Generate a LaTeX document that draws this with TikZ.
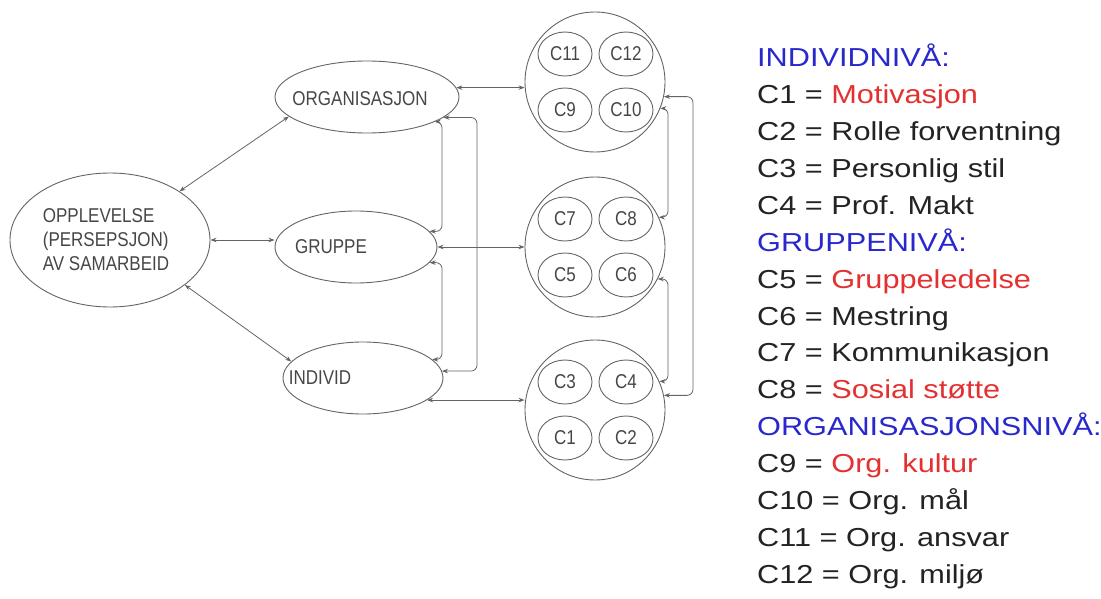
\documentclass[tikz,border=0pt]{standalone}
\usepackage{fontspec}
\usepackage{tikz}
\usetikzlibrary{arrows.meta, shapes.geometric}
\newfontfamily\diafont[FakeStretch=0.85]{Liberation Sans}
\newfontfamily\keyfont[FakeStretch=1.18]{Liberation Sans}
\definecolor{ink}{RGB}{70,70,70}
\definecolor{wire}{RGB}{100,100,100}
\definecolor{lvl}{RGB}{40,40,205}
\definecolor{hot}{RGB}{228,48,48}
\definecolor{key}{RGB}{35,35,35}

\begin{document}
\begin{tikzpicture}[x=1pt, y=-1pt, >={Stealth[length=6pt,width=4.5pt]}]
\tikzstyle{every node}+=[inner sep=0pt]
\tikzstyle{tag}=[text=ink, font=\diafont\fontsize{20}{24}\selectfont]
\tikzstyle{oval}=[draw=wire, line width=0.9pt, ellipse]
\tikzstyle{ring}=[draw=wire, line width=0.9pt, circle, minimum size=140pt]
\tikzstyle{cell}=[oval, tag, minimum width=54pt, minimum height=44pt]
\tikzstyle{link}=[<->, draw=wire, line width=0.8pt]
\tikzstyle{hook}=[link, rounded corners=6pt]
\tikzstyle{keyline}=[anchor=base west, text=key, font=\keyfont\fontsize{26}{30}\selectfont]
\useasboundingbox (0,0) rectangle (1101,599);

\node[oval, minimum width=200pt, minimum height=134pt, label={[tag, align=left, xshift=-4pt]center:OPPLEVELSE\\(PERSEPSJON)\\AV SAMARBEID}] (opp) at (110,240) {};
\node[oval, minimum width=184pt, minimum height=72pt, label={[tag, xshift=-7pt, yshift=-2pt]center:ORGANISASJON}] (org) at (367,97) {};
\node[oval, minimum width=162pt, minimum height=72pt, label={[tag, xshift=-25pt]center:GRUPPE}] (grp) at (356,247) {};
\node[oval, minimum width=160pt, minimum height=72pt, label={[tag, xshift=-43pt]center:INDIVID}] (indiv) at (363,378) {};

\foreach \ring/\y/\a/\b/\c/\d in {topc/82/11/12/9/10, midc/247/7/8/5/6, botc/410/3/4/1/2} {
  \node[ring] (\ring) at (595,\y) {};
  \node[cell] (c\a) at (565,\y-28) {C\a};
  \node[cell] (c\b) at (626,\y-28) {C\b};
  \node[cell] (c\c) at (565,\y+28) {C\c};
  \node[cell] (c\d) at (626,\y+28) {C\d};
}

\coordinate (lin) at (442,0);
\coordinate (lout) at (477,0);
\coordinate (rin) at (668,0);
\coordinate (rout) at (693,0);

\draw[link] (opp.35) -- (org.194);
\draw[link] (opp.east) -- (opp.east -| grp.west);
\draw[link] (opp.-31) -- (indiv.167);
\draw[link] (org.6) -- (org.6 -| topc.west);
\draw[link] (grp.east) -- (midc.west);
\draw[link] (indiv.-19) -- (indiv.-19 -| botc.west);
\draw[hook] (org.-20) -| (lin |- grp.12) -- (grp.12);
\draw[hook] (grp.-12) -| (lin |- indiv.15) -- (indiv.15);
\draw[hook] (org.-15) -| (lout |- indiv.5) -- (indiv.5);
\draw[hook] (topc.-22) -| (rin |- midc.25) -- (midc.25);
\draw[hook] (midc.-27) -| (rin |- botc.24) -- (botc.24);
\draw[hook] (topc.-12) -| (rout |- botc.12) -- (botc.12);

\foreach \txt [count=\i from 0] in {{\color{lvl}INDIVIDNIVÅ:}, {C1 = \color{hot}Motivasjon}, {C2 = Rolle forventning}, {C3 = Personlig stil}, {C4 = Prof. Makt}, {\color{lvl}GRUPPENIVÅ:}, {C5 = \color{hot}Gruppeledelse}, {C6 = Mestring}, {C7 = Kommunikasjon}, {C8 = \color{hot}Sosial støtte}, {\color{lvl}ORGANISASJONSNIVÅ:}, {C9 = \color{hot}Org. kultur}, {C10 = Org. mål}, {C11 = Org. ansvar}, {C12 = Org. miljø}}
  \node[keyline] (key\i) at (757, 67+36.86*\i) {\txt};
\end{tikzpicture}
\end{document}
